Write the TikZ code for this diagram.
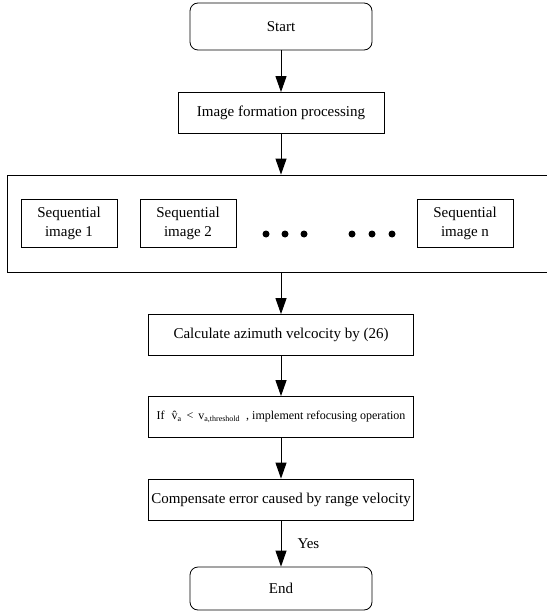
\documentclass[tikz,border=0pt]{standalone}
\usepackage{fontspec}
\setmainfont{Liberation Serif}
\usetikzlibrary{arrows.meta}
\begin{document}
\begin{tikzpicture}[x=1pt,y=-1pt,
  every node/.style={font=\fontsize{15}{19}\selectfont, inner sep=0pt},
  term/.style={draw, rounded corners=8pt, minimum width=182pt, minimum height=47pt, line width=0.8pt},
  proc/.style={draw, minimum height=41pt, line width=0.8pt},
  seq/.style={draw, minimum width=96pt, minimum height=48pt, align=center, line width=0.8pt},
  flow/.style={-{Triangle[width=11pt,length=16pt]}, line width=1pt},
  bigdot/.style={circle, fill, minimum size=7pt}
]
\useasboundingbox (0,0) rectangle (546,612);
\node[term] (start) at (281,26.5) {Start};
\node[proc, minimum width=206pt] (form) at (281,113) {Image formation processing};
\node[draw, line width=0.8pt, minimum width=545pt, minimum height=97pt] (cont) at (279.5,223.5) {};
\node[seq] (s1) at (69,223) {Sequential\\image 1};
\node[seq] (s2) at (188,223) {Sequential\\image 2};
\node[seq] (sn) at (465,223) {Sequential\\image n};
\node[bigdot] (d1) at (266,234) {};
\node[bigdot] (d2) at (285,234) {};
\node[bigdot] (d3) at (304,234) {};
\node[bigdot] (d4) at (352,234) {};
\node[bigdot] (d5) at (372,234) {};
\node[bigdot] (d6) at (392,234) {};
\node[proc, minimum width=265pt] (calc) at (281,335) {Calculate azimuth velcocity by (26)};
\node[proc, minimum width=265pt, font=\fontsize{12}{15}\selectfont] (cond) at (281,417) {If\hspace{7pt}v̂\textsubscript{a} \,<\, v\textsubscript{a,threshold}\hspace{6pt}, implement refocusing operation};
\node[proc, minimum width=265pt] (comp) at (281,499.5) {Compensate error caused by range velocity};
\node[term, minimum height=43pt] (end) at (281,588.5) {End};
\draw[flow] (start) -- (form);
\draw[flow] (form.south) -- (form.south |- cont.north);
\draw[flow] (cont.south -| calc.north) -- (calc.north);
\draw[flow] (calc) -- (cond);
\draw[flow] (cond) -- (comp);
\draw[flow] (comp) -- node[right=16pt]{Yes} (end);
\end{tikzpicture}
\end{document}
